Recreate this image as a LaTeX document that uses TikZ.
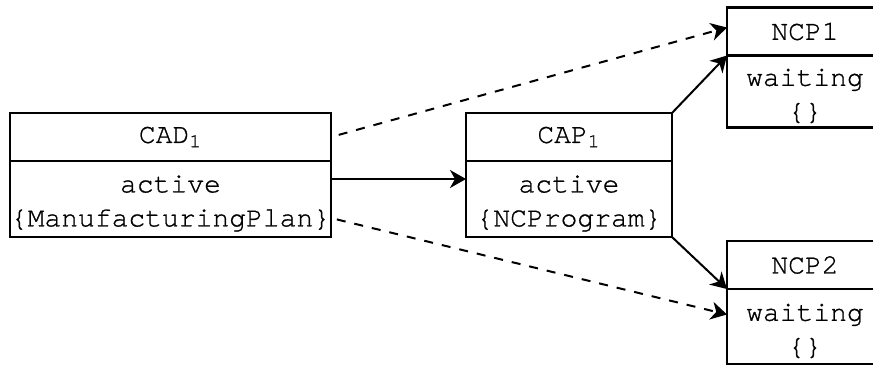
\documentclass[tikz,border=0pt]{standalone}
\usepackage{fontspec}
\setmonofont{TeX Gyre Cursor}[FakeBold=0.8]
\usepackage{tikz}
\usetikzlibrary{positioning, arrows.meta}

\newcommand{\lift}{\rule{0pt}{13pt}}

\begin{document}
\begin{tikzpicture}[x=1pt, y=1pt, >={Stealth[length=8pt, width=9pt, inset=2.5pt]},
    head/.style={draw, line width=1.2pt, outer sep=0pt, inner sep=0pt,
        minimum height=24pt, font=\ttfamily\fontsize{14}{17}\selectfont},
    body/.style={head, minimum height=38pt, align=center},
    flow/.style={->, line width=1pt},
    hint/.style={flow, dash pattern=on 4.5pt off 4.5pt}]

    % =================================================================
    % 1. CANVAS AND BOX SIZES
    % =================================================================
    \def\wcad{160.5pt}  % width of the CAD box
    \def\wcap{103pt}    % width of the CAP box
    \def\wncp{78pt}     % width of the NC program boxes

    \useasboundingbox (0,0) rectangle (436.5,183);
    \clip (0,0) rectangle (436.5,183);

    % =================================================================
    % 2. STATE BOXES (HEADER + BODY)
    % =================================================================
    \node[head, minimum width=\wcad] (cad) at (85.25,114.5) {CAD\textsubscript{1}};
    \node[body, minimum width=\wcad, below=0pt of cad] (cadS) {\lift active\\\{ManufacturingPlan\}};

    \node[head, minimum width=\wcap] (cap) at (284.5,114.5) {CAP\textsubscript{1}};
    \node[body, minimum width=\wcap, below=0pt of cap] (capS) {\lift active\\\{NCProgram\}};

    \node[head, minimum width=\wncp] (ncp1) at (402.5,167.25) {NCP1};
    \node[body, minimum width=\wncp, minimum height=36pt, below=0pt of ncp1] (ncp1S) {\lift waiting\\\{\}};

    \node[head, minimum width=\wncp] (ncp2) at (402.5,50.5) {NCP2};
    \node[body, minimum width=\wncp, minimum height=37.5pt, below=0pt of ncp2] (ncp2S) {\lift waiting\\\{\}};

    % =================================================================
    % 3. CONNECTORS
    % =================================================================
    % solid: actual hand-over of the data
    \draw[flow] ([yshift=10pt]cadS.east) -- ([yshift=10pt]capS.west);
    \draw[flow] (cap.north east) -- (ncp1S.north west);
    \draw[flow] (capS.south east) -- (ncp2S.north west);

    % dashed: indirect dependencies
    \draw[hint, shorten <=4pt] (cad.east) -- ([yshift=2pt]ncp1.west);
    \draw[hint, shorten <=3pt] ([yshift=-9.5pt]cadS.east) -- ([yshift=6pt]ncp2S.west);

\end{tikzpicture}
\end{document}
